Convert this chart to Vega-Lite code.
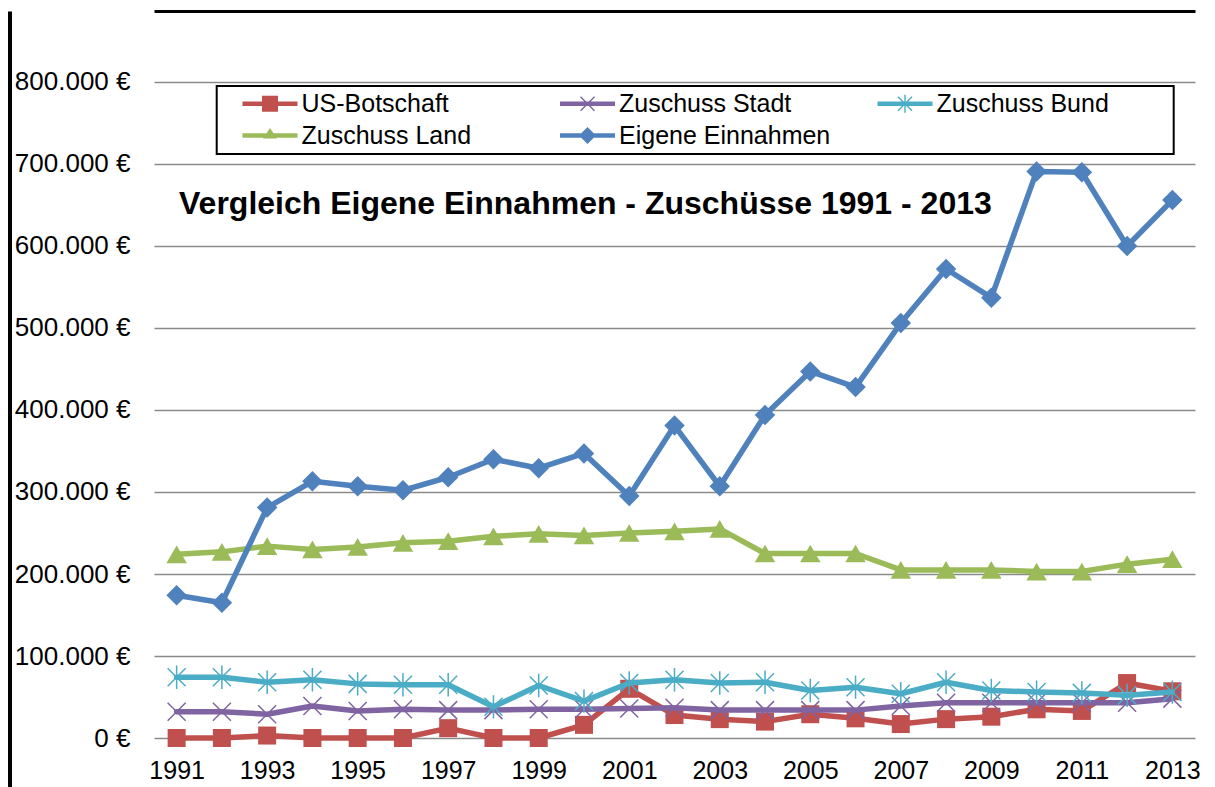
{
  "$schema": "https://vega.github.io/schema/vega-lite/v6.json",
  "width": 1041,
  "height": 776,
  "autosize": {"type": "none"},
  "padding": {"left": 154, "top": 11, "right": 20, "bottom": 0},
  "background": "white",
  "title": {
    "text": "Vergleich Eigene Einnahmen - Zuschüsse 1991 - 2013",
    "anchor": "start", "frame": "group", "orient": "top", "offset": 0,
    "dx": 25, "dy": 235, "baseline": "alphabetic",
    "font": "Liberation Sans", "fontSize": 32, "fontWeight": "bold", "color": "black"
  },
  "data": {"values": [
    {"year":1991,"series":"US-Botschaft","value":0},{"year":1992,"series":"US-Botschaft","value":0},{"year":1993,"series":"US-Botschaft","value":3000},{"year":1994,"series":"US-Botschaft","value":0},{"year":1995,"series":"US-Botschaft","value":0},{"year":1996,"series":"US-Botschaft","value":0},{"year":1997,"series":"US-Botschaft","value":12000},{"year":1998,"series":"US-Botschaft","value":0},{"year":1999,"series":"US-Botschaft","value":0},{"year":2000,"series":"US-Botschaft","value":16000},{"year":2001,"series":"US-Botschaft","value":60000},{"year":2002,"series":"US-Botschaft","value":28000},{"year":2003,"series":"US-Botschaft","value":23000},{"year":2004,"series":"US-Botschaft","value":20000},{"year":2005,"series":"US-Botschaft","value":29000},{"year":2006,"series":"US-Botschaft","value":24000},{"year":2007,"series":"US-Botschaft","value":17000},{"year":2008,"series":"US-Botschaft","value":23000},{"year":2009,"series":"US-Botschaft","value":26000},{"year":2010,"series":"US-Botschaft","value":35000},{"year":2011,"series":"US-Botschaft","value":33000},{"year":2012,"series":"US-Botschaft","value":67000},{"year":2013,"series":"US-Botschaft","value":57000},
    {"year":1991,"series":"Zuschuss Stadt","value":32000},{"year":1992,"series":"Zuschuss Stadt","value":32000},{"year":1993,"series":"Zuschuss Stadt","value":29000},{"year":1994,"series":"Zuschuss Stadt","value":39000},{"year":1995,"series":"Zuschuss Stadt","value":33000},{"year":1996,"series":"Zuschuss Stadt","value":35000},{"year":1997,"series":"Zuschuss Stadt","value":34000},{"year":1998,"series":"Zuschuss Stadt","value":34000},{"year":1999,"series":"Zuschuss Stadt","value":35000},{"year":2000,"series":"Zuschuss Stadt","value":35000},{"year":2001,"series":"Zuschuss Stadt","value":36000},{"year":2002,"series":"Zuschuss Stadt","value":37000},{"year":2003,"series":"Zuschuss Stadt","value":34000},{"year":2004,"series":"Zuschuss Stadt","value":34000},{"year":2005,"series":"Zuschuss Stadt","value":34000},{"year":2006,"series":"Zuschuss Stadt","value":34000},{"year":2007,"series":"Zuschuss Stadt","value":39000},{"year":2008,"series":"Zuschuss Stadt","value":43000},{"year":2009,"series":"Zuschuss Stadt","value":43000},{"year":2010,"series":"Zuschuss Stadt","value":43000},{"year":2011,"series":"Zuschuss Stadt","value":43000},{"year":2012,"series":"Zuschuss Stadt","value":43000},{"year":2013,"series":"Zuschuss Stadt","value":48000},
    {"year":1991,"series":"Zuschuss Bund","value":74000},{"year":1992,"series":"Zuschuss Bund","value":74000},{"year":1993,"series":"Zuschuss Bund","value":68000},{"year":1994,"series":"Zuschuss Bund","value":71000},{"year":1995,"series":"Zuschuss Bund","value":66000},{"year":1996,"series":"Zuschuss Bund","value":65000},{"year":1997,"series":"Zuschuss Bund","value":65000},{"year":1998,"series":"Zuschuss Bund","value":38000},{"year":1999,"series":"Zuschuss Bund","value":64000},{"year":2000,"series":"Zuschuss Bund","value":45000},{"year":2001,"series":"Zuschuss Bund","value":67000},{"year":2002,"series":"Zuschuss Bund","value":71000},{"year":2003,"series":"Zuschuss Bund","value":67000},{"year":2004,"series":"Zuschuss Bund","value":68000},{"year":2005,"series":"Zuschuss Bund","value":58000},{"year":2006,"series":"Zuschuss Bund","value":62000},{"year":2007,"series":"Zuschuss Bund","value":54000},{"year":2008,"series":"Zuschuss Bund","value":68000},{"year":2009,"series":"Zuschuss Bund","value":58000},{"year":2010,"series":"Zuschuss Bund","value":56000},{"year":2011,"series":"Zuschuss Bund","value":55000},{"year":2012,"series":"Zuschuss Bund","value":52000},{"year":2013,"series":"Zuschuss Bund","value":56000},
    {"year":1991,"series":"Zuschuss Land","value":224000},{"year":1992,"series":"Zuschuss Land","value":227000},{"year":1993,"series":"Zuschuss Land","value":234000},{"year":1994,"series":"Zuschuss Land","value":230000},{"year":1995,"series":"Zuschuss Land","value":233000},{"year":1996,"series":"Zuschuss Land","value":238000},{"year":1997,"series":"Zuschuss Land","value":240000},{"year":1998,"series":"Zuschuss Land","value":246000},{"year":1999,"series":"Zuschuss Land","value":249000},{"year":2000,"series":"Zuschuss Land","value":247000},{"year":2001,"series":"Zuschuss Land","value":250000},{"year":2002,"series":"Zuschuss Land","value":252000},{"year":2003,"series":"Zuschuss Land","value":255000},{"year":2004,"series":"Zuschuss Land","value":225000},{"year":2005,"series":"Zuschuss Land","value":225000},{"year":2006,"series":"Zuschuss Land","value":225000},{"year":2007,"series":"Zuschuss Land","value":205000},{"year":2008,"series":"Zuschuss Land","value":205000},{"year":2009,"series":"Zuschuss Land","value":205000},{"year":2010,"series":"Zuschuss Land","value":203000},{"year":2011,"series":"Zuschuss Land","value":203000},{"year":2012,"series":"Zuschuss Land","value":212000},{"year":2013,"series":"Zuschuss Land","value":218000},
    {"year":1991,"series":"Eigene Einnahmen","value":174000},{"year":1992,"series":"Eigene Einnahmen","value":165000},{"year":1993,"series":"Eigene Einnahmen","value":281000},{"year":1994,"series":"Eigene Einnahmen","value":313000},{"year":1995,"series":"Eigene Einnahmen","value":307000},{"year":1996,"series":"Eigene Einnahmen","value":302000},{"year":1997,"series":"Eigene Einnahmen","value":318000},{"year":1998,"series":"Eigene Einnahmen","value":340000},{"year":1999,"series":"Eigene Einnahmen","value":329000},{"year":2000,"series":"Eigene Einnahmen","value":347000},{"year":2001,"series":"Eigene Einnahmen","value":295000},{"year":2002,"series":"Eigene Einnahmen","value":381000},{"year":2003,"series":"Eigene Einnahmen","value":307000},{"year":2004,"series":"Eigene Einnahmen","value":394000},{"year":2005,"series":"Eigene Einnahmen","value":447000},{"year":2006,"series":"Eigene Einnahmen","value":428000},{"year":2007,"series":"Eigene Einnahmen","value":506000},{"year":2008,"series":"Eigene Einnahmen","value":572000},{"year":2009,"series":"Eigene Einnahmen","value":537000},{"year":2010,"series":"Eigene Einnahmen","value":691000},{"year":2011,"series":"Eigene Einnahmen","value":690000},{"year":2012,"series":"Eigene Einnahmen","value":600000},{"year":2013,"series":"Eigene Einnahmen","value":656000}
  ]},
  "resolve": {"axis": {"x": "independent"}},
  "layer": [
    {
      "encoding": {
        "x": {"field": "year", "type": "ordinal", "scale": {"type": "point", "padding": 0.5},
          "axis": {"orient": "bottom", "offset": -49, "values": [1991,1993,1995,1997,1999,2001,2003,2005,2007,2009,2011,2013],
            "labelAngle": 0, "labelPadding": 20, "ticks": false, "tickSize": 0, "domain": false, "grid": false, "title": null,
            "labelFont": "Liberation Sans", "labelFontSize": 25, "labelColor": "black"}},
        "y": {"field": "value", "type": "quantitative", "scale": {"domain": [-59756, 886585], "nice": false, "zero": false},
          "axis": {"orient": "left", "offset": 144.5, "values": [0,100000,200000,300000,400000,500000,600000,700000,800000],
            "labelExpr": "replace(format(datum.value, ','), regexp(',', 'g'), '.') + ' €'",
            "labelAlign": "right", "labelBaseline": "middle", "labelPadding": -120.5, "ticks": false, "tickSize": 0,
            "domain": true, "domainColor": "black", "domainWidth": 4,
            "grid": true, "gridColor": "#8a8a8a", "gridWidth": 1.5, "title": null,
            "labelFont": "Liberation Sans", "labelFontSize": 26, "labelColor": "black"}}
      },
      "layer": [
        {"transform": [{"filter": "datum.series === 'US-Botschaft'"}], "layer": [
          {"mark": {"type": "line", "color": "#C0504D", "strokeWidth": 5.5, "strokeJoin": "round", "strokeCap": "round"}},
          {"mark": {"type": "point", "color": "#C0504D", "shape": "square", "filled": true, "size": 324, "opacity": 1}}
        ]},
        {"transform": [{"filter": "datum.series === 'Zuschuss Stadt'"}], "layer": [
          {"mark": {"type": "line", "color": "#8064A2", "strokeWidth": 5.5, "strokeJoin": "round", "strokeCap": "round"}},
          {"mark": {"type": "point", "color": "#8064A2", "shape": "M-1,-1L1,1M-1,1L1,-1", "filled": false, "size": 324, "strokeWidth": 1.5, "opacity": 1}}
        ]},
        {"transform": [{"filter": "datum.series === 'Zuschuss Bund'"}], "layer": [
          {"mark": {"type": "line", "color": "#4BACC6", "strokeWidth": 5.5, "strokeJoin": "round", "strokeCap": "round"}},
          {"mark": {"type": "point", "color": "#4BACC6", "shape": "M-1,-1L1,1M-1,1L1,-1M0,-1.3V1.3", "filled": false, "size": 324, "strokeWidth": 1.5, "opacity": 1}}
        ]},
        {"transform": [{"filter": "datum.series === 'Zuschuss Land'"}], "layer": [
          {"mark": {"type": "line", "color": "#9BBB59", "strokeWidth": 5.5, "strokeJoin": "round", "strokeCap": "round"}},
          {"mark": {"type": "point", "color": "#9BBB59", "shape": "triangle-up", "filled": true, "size": 420, "opacity": 1}}
        ]},
        {"transform": [{"filter": "datum.series === 'Eigene Einnahmen'"}], "layer": [
          {"mark": {"type": "line", "color": "#4F81BD", "strokeWidth": 5.5, "strokeJoin": "round", "strokeCap": "round"}},
          {"mark": {"type": "point", "color": "#4F81BD", "shape": "diamond", "filled": true, "size": 420, "opacity": 1}}
        ]}
      ]
    },
    {
      "mark": {"type": "point", "filled": true, "opacity": 1, "size": 0},
      "encoding": {
        "x": {"field": "year", "type": "ordinal",
          "axis": {"orient": "top", "offset": 0, "domain": true, "domainColor": "black", "domainWidth": 3,
            "labels": false, "ticks": false, "grid": false, "title": null}},
        "y": {"field": "value", "type": "quantitative"},
        "color": {"field": "series", "type": "nominal",
          "scale": {"domain": ["US-Botschaft","Zuschuss Stadt","Zuschuss Bund","Zuschuss Land","Eigene Einnahmen"],
                    "range": ["#C0504D","#8064A2","#4BACC6","#9BBB59","#4F81BD"]},
          "legend": {"orient": "none", "legendX": 62.7, "legendY": 75, "direction": "horizontal", "columns": 3, "gridAlign": "all",
            "title": "\u00a0", "titleOrient": "right", "titlePadding": 60, "titleFontSize": 25,
            "symbolSize": 400, "symbolOffset": 35.8, "labelOffset": 19, "symbolStrokeWidth": 0, "symbolOpacity": 1,
            "labelFont": "Liberation Sans", "labelFontSize": 25, "labelColor": "black", "labelLimit": 500,
            "columnPadding": 25.5, "rowPadding": 6, "padding": 5, "strokeColor": "black", "fillColor": "white"}},
        "shape": {"field": "series", "type": "nominal",
          "scale": {"domain": ["US-Botschaft","Zuschuss Stadt","Zuschuss Bund","Zuschuss Land","Eigene Einnahmen"],
            "range": [
              "M-2.75,-0.22H2.75V0.22H-2.75Z M-0.8,-0.8H0.8V0.8H-0.8Z",
              "M-2.75,-0.22H2.75V0.22H-2.75Z M-0.65,-0.75L0.75,0.65L0.65,0.75L-0.75,-0.65Z M-0.75,0.65L0.65,-0.75L0.75,-0.65L-0.65,0.75Z",
              "M-2.75,-0.22H2.75V0.22H-2.75Z M-0.65,-0.75L0.75,0.65L0.65,0.75L-0.75,-0.65Z M-0.75,0.65L0.65,-0.75L0.75,-0.65L-0.65,0.75Z M-0.07,-0.9H0.07V0.9H-0.07Z",
              "M-2.75,-0.22H2.75V0.22H-2.75Z M-0.7,0.3L0,-0.75L0.7,0.3Z",
              "M-2.75,-0.22H2.75V0.22H-2.75Z M0,-0.85L0.85,0L0,0.85L-0.85,0Z"
            ]},
          "legend": {"orient": "none", "legendX": 62.7, "legendY": 75, "direction": "horizontal", "columns": 3, "gridAlign": "all",
            "title": "\u00a0", "titleOrient": "right", "titlePadding": 60, "titleFontSize": 25,
            "symbolSize": 400, "symbolOffset": 35.8, "labelOffset": 19, "symbolStrokeWidth": 0, "symbolOpacity": 1,
            "labelFont": "Liberation Sans", "labelFontSize": 25, "labelColor": "black", "labelLimit": 500,
            "columnPadding": 25.5, "rowPadding": 6, "padding": 5, "strokeColor": "black", "fillColor": "white"}}
      }
    }
  ],
  "config": {
    "view": {"stroke": null},
    "font": "Liberation Sans",
    "legend": {"strokeWidth": 2}
  }
}
